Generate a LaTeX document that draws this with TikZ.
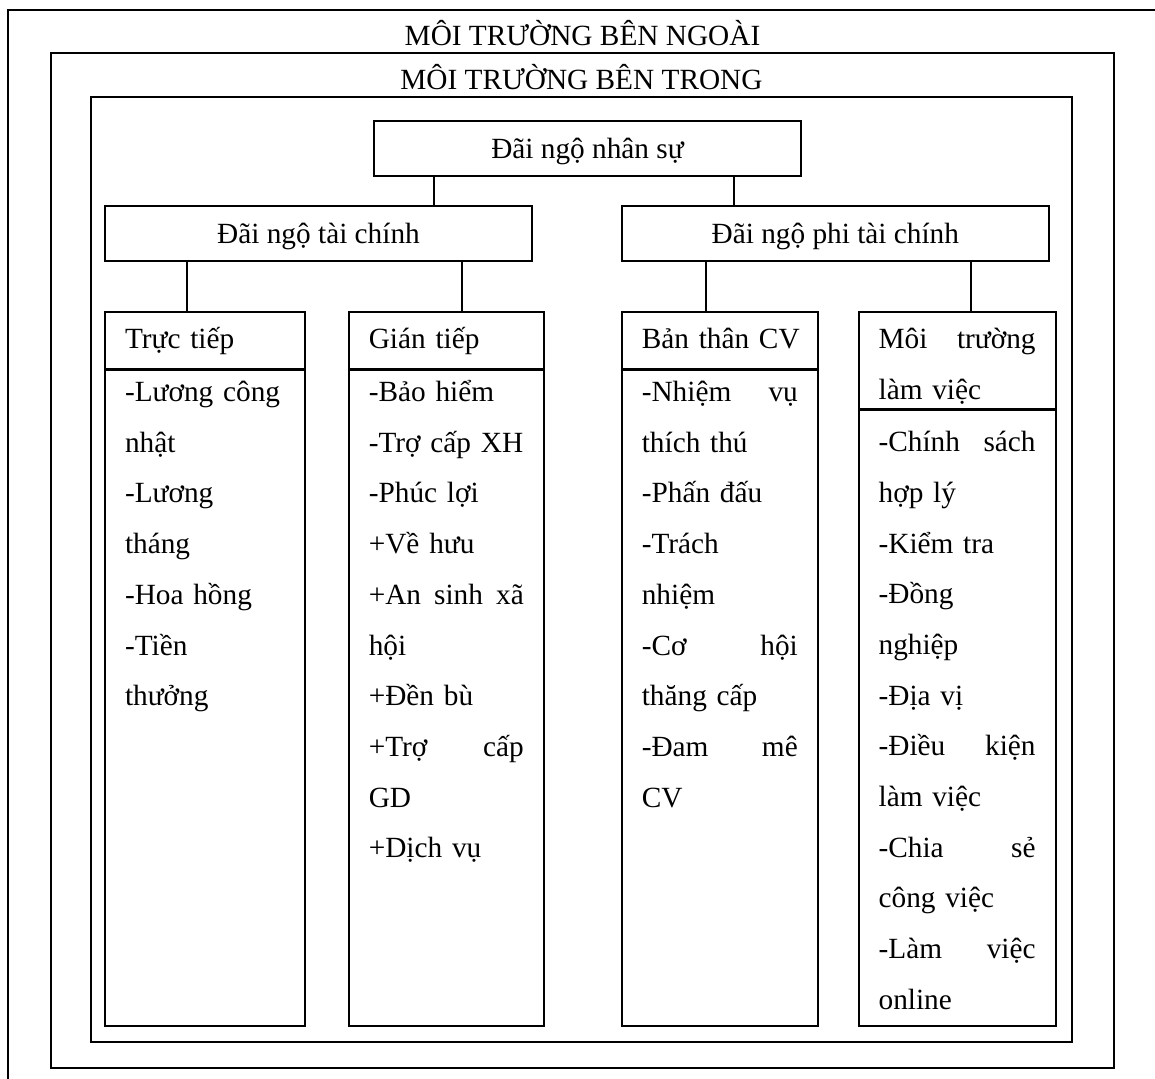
\documentclass[tikz,border=0pt]{standalone}
\usepackage{fontspec}
\setmainfont{Liberation Serif}
\usetikzlibrary{positioning}
\newcommand{\vnsize}{\fontsize{14.65pt}{25.35pt}\selectfont}
\tikzset{
  framebox/.style={rectangle, draw, line width=0.9pt, inner sep=0pt},
  titlebox/.style={inner sep=0pt, font=\vnsize},
  levelbox/.style={rectangle, draw, line width=0.9pt, inner sep=0pt,
                   minimum width=213.5pt, minimum height=27.5pt,
                   text height=12pt, text depth=1.5pt, font=\vnsize},
  headbox/.style={rectangle, draw, line width=0.9pt, inner xsep=10pt, inner ysep=0pt,
                   text width=#1, align=left, text height=18.5pt, font=\vnsize},
  bodybox/.style={rectangle, draw, line width=0.9pt, inner xsep=10pt, inner ysep=0pt,
                   text width=#1, align=left, font=\vnsize},
}
\begin{document}
\begin{tikzpicture}[x=0.5pt, y=-0.5pt,
    link/.style={line width=0.9pt}]
  \useasboundingbox (0,0) rectangle (1155,1079);
  % outer frame runs off the page
  \draw[link] (8,1079) |- (1155,10);
  \node[framebox, minimum width=531.5pt, minimum height=507.5pt] (ngoai) at (582.5,560.5) {};
  \node[titlebox, anchor=base] (ngoaititle) at ([yshift=3.5pt]ngoai.north) {MÔI TRƯỜNG BÊN NGOÀI};
  \node[framebox, minimum width=490.5pt, minimum height=472.5pt] (trong) at (581.5,569.5) {};
  \node[titlebox, anchor=base] (trongtitle) at ([yshift=3.2pt]trong.north) {MÔI TRƯỜNG BÊN TRONG};

  \node[levelbox] (nhansu) at (587.5,148.5) {Đãi ngộ nhân sự};
  \node[levelbox] (taichinh) at (318.5,233.5) {Đãi ngộ tài chính};
  \node[levelbox, right=44pt of taichinh] (phitaichinh) {Đãi ngộ phi tài chính};

  % financial columns
  \node[headbox=80pt, text depth=10pt, below=24.5pt of taichinh.south west, anchor=north west] (tructiep) {Trực tiếp};
  \node[bodybox=80pt, text height=15.5pt, text depth=312pt, below=0pt of tructiep] (tructiepb)
    {\mbox{-Lương công}\\nhật\\-Lương\\tháng\\-Hoa hồng\\-Tiền\\thưởng};
  \node[headbox=77.5pt, text depth=10pt, right=21pt of tructiep] (giantiep) {Gián tiếp};
  \node[bodybox=77.5pt, text height=15.5pt, text depth=312pt, below=0pt of giantiep] (giantiepb)
    {-Bảo hiểm\\\mbox{-Trợ cấp XH}\\-Phúc lợi\\+Về hưu\\+An\hfill sinh\hfill xã\\hội\\+Đền bù\\+Trợ\hfill cấp\\GD\\+Dịch vụ};

  % non-financial columns
  \node[headbox=78pt, text depth=10pt, below=24.5pt of phitaichinh.south west, anchor=north west] (banthan) {\mbox{Bản thân CV}};
  \node[bodybox=78pt, text height=15.5pt, text depth=312pt, below=0pt of banthan] (banthanb)
    {-Nhiệm\hfill vụ\\thích thú\\-Phấn đấu\\-Trách\\nhiệm\\-Cơ\hfill hội\\thăng cấp\\-Đam\hfill mê\\CV};
  \node[headbox=78.5pt, text depth=30pt, right=19.5pt of banthan.north east, anchor=north west] (moitruong)
    {Môi\hfill trường\\làm việc};
  \node[bodybox=78.5pt, text height=20.5pt, text depth=287pt, below=0pt of moitruong] (moitruongb)
    {-Chính\hfill sách\\hợp lý\\-Kiểm tra\\-Đồng\\nghiệp\\-Địa vị\\-Điều\hfill kiện\\làm việc\\-Chia\hfill sẻ\\công việc\\-Làm\hfill việc\\online};

  \draw[link] ([xshift=30.5pt]nhansu.south west) -- ([xshift=165pt]taichinh.north west);
  \draw[link] ([xshift=-34pt]nhansu.south east) -- ([xshift=56.5pt]phitaichinh.north west);
  \draw[link] ([xshift=41.5pt]taichinh.south west) -- ([xshift=41.5pt]tructiep.north west);
  \draw[link] ([xshift=-35.5pt]taichinh.south east) -- ([xshift=57pt]giantiep.north west);
  \draw[link] ([xshift=42.5pt]phitaichinh.south west) -- ([xshift=42.5pt]banthan.north west);
  \draw[link] ([xshift=-39.5pt]phitaichinh.south east) -- ([xshift=56.5pt]moitruong.north west);
\end{tikzpicture}
\end{document}
